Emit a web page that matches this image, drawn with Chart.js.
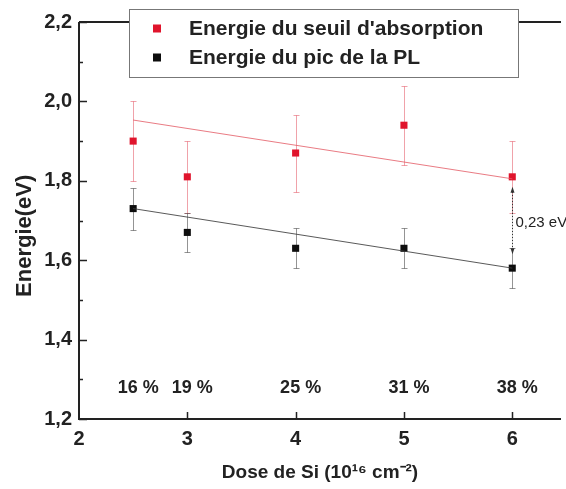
<!DOCTYPE html>
<html><head><meta charset="utf-8">
<script src="https://cdn.jsdelivr.net/npm/chart.js@4"></script>
<style>html,body{margin:0;padding:0;background:#fff;overflow:hidden}#wrap{width:566px;height:489px}</style>
</head><body><div id="wrap"><canvas id="c" width="566" height="489"></canvas></div>
<script>
const doses = [2.5, 3, 4, 5, 6];
const seuil = [1.90, 1.81, 1.87, 1.94, 1.81];
const seuilErr = [0.10, 0.09, 0.097, 0.10, 0.09];
const pic = [1.73, 1.67, 1.63, 1.63, 1.58];
const picErr = [0.053, 0.05, 0.05, 0.05, 0.05];
const fitX = [2.5, 6];
const seuilFit = [1.953, 1.805];
const picFit = [1.73, 1.58];
const percents = ['16 %', '19 %', '25 %', '31 %', '38 %'];
const legendLabels = ["Energie du seuil d'absorption", 'Energie du pic de la PL'];
const gapLabel = '0,23 eV';
const gapRange = [1.78, 1.62];

const RED = '#e0142c', BLACK = '#0d0d0d';
const FONT = '"Liberation Sans", Arial, sans-serif';
const pts = (xs, ys) => xs.map((x, i) => ({x, y: ys[i]}));

const decor = {
  id: 'decor',
  beforeDatasetsDraw(chart) {
    const {ctx, scales: {x, y}} = chart;
    ctx.save();
    const bars = (vals, errs, col) => {
      ctx.strokeStyle = col; ctx.lineWidth = 1;
      vals.forEach((v, i) => {
        const px = Math.round(x.getPixelForValue(doses[i])) + 0.5;
        const t = Math.round(y.getPixelForValue(v + errs[i])) + 0.5, b = Math.round(y.getPixelForValue(v - errs[i])) + 0.5;
        ctx.beginPath();
        ctx.moveTo(px, t); ctx.lineTo(px, b);
        ctx.moveTo(px - 3, t); ctx.lineTo(px + 3, t);
        ctx.moveTo(px - 3, b); ctx.lineTo(px + 3, b);
        ctx.stroke();
      });
    };
    bars(seuil, seuilErr, 'rgba(225,70,85,0.5)');
    bars(pic, picErr, 'rgba(60,60,60,0.55)');
    // gap arrow
    const ax = Math.round(x.getPixelForValue(6)) + 0.5;
    const y1 = y.getPixelForValue(gapRange[0]), y2 = y.getPixelForValue(gapRange[1]);
    ctx.strokeStyle = '#333'; ctx.setLineDash([1.5, 1.5]);
    ctx.beginPath(); ctx.moveTo(ax, y1); ctx.lineTo(ax, y2); ctx.stroke();
    ctx.setLineDash([]);
    ctx.fillStyle = '#333';
    ctx.beginPath(); ctx.moveTo(ax, y1 - 2); ctx.lineTo(ax - 2, y1 + 4); ctx.lineTo(ax + 2, y1 + 4); ctx.fill();
    ctx.beginPath(); ctx.moveTo(ax, y2 + 2); ctx.lineTo(ax - 2, y2 - 4); ctx.lineTo(ax + 2, y2 - 4); ctx.fill();
    ctx.font = '15px ' + FONT; ctx.fillStyle = '#222'; ctx.textBaseline = 'middle'; ctx.textAlign = 'left';
    ctx.fillText(gapLabel, ax + 3, y.getPixelForValue((gapRange[0] + gapRange[1]) / 2) + 2);
    ctx.restore();
  },
  afterDraw(chart) {
    const {ctx, chartArea: a, scales: {x, y}} = chart;
    ctx.save();
    // axes
    ctx.strokeStyle = '#222'; ctx.lineWidth = 2;
    ctx.beginPath();
    ctx.moveTo(a.left, a.top); ctx.lineTo(a.right, a.top);
    ctx.moveTo(a.left, a.top); ctx.lineTo(a.left, a.bottom); ctx.lineTo(a.right, a.bottom);
    ctx.stroke();
    ctx.lineWidth = 1.5;
    ctx.beginPath();
    for (let k = 12; k <= 22; k++) {
      const py = Math.round(y.getPixelForValue(k / 10)) + 0.5;
      const major = k % 2 === 0;
      ctx.moveTo(a.left, py); ctx.lineTo(a.left + (major ? 8 : 4), py);
    }
    for (let v = 3; v <= 6; v += 1) {
      const px = Math.round(x.getPixelForValue(v)) + 0.5;
      ctx.moveTo(px, a.bottom); ctx.lineTo(px, a.bottom - 7);
    }
    ctx.stroke();
    // percent labels
    ctx.font = 'bold 18px ' + FONT; ctx.fillStyle = '#222'; ctx.textAlign = 'center'; ctx.textBaseline = 'middle';
    percents.forEach((p, i) => ctx.fillText(p, x.getPixelForValue(doses[i]) + 5, y.getPixelForValue(1.277)));
    // legend
    const lx = 129, ly = 9, lw = 389, lh = 68;
    ctx.fillStyle = '#fff'; ctx.fillRect(lx, ly, lw, lh);
    ctx.strokeStyle = '#777'; ctx.lineWidth = 1; ctx.strokeRect(lx + 0.5, ly + 0.5, lw, lh);
    const cols = [RED, BLACK];
    legendLabels.forEach((t, i) => {
      const cy = 28.5 + i * 29;
      ctx.fillStyle = cols[i]; ctx.fillRect(153, cy - 4, 8, 8);
      ctx.fillStyle = '#222'; ctx.font = 'bold 21px ' + FONT; ctx.textAlign = 'left'; ctx.textBaseline = 'middle';
      ctx.fillText(t, 189, cy + 1);
    });
    ctx.restore();
  }
};

new Chart(document.getElementById('c'), {
  data: {
    datasets: [
      {type: 'line', label: 'fit seuil', data: pts(fitX, seuilFit), borderColor: 'rgba(228,90,100,0.8)', borderWidth: 1, pointRadius: 0, fill: false},
      {type: 'line', label: 'fit pic', data: pts(fitX, picFit), borderColor: 'rgba(60,60,60,0.85)', borderWidth: 1, pointRadius: 0, fill: false},
      {type: 'scatter', label: legendLabels[0], data: pts(doses, seuil), pointStyle: 'rect', pointRadius: 5, backgroundColor: RED, borderColor: RED, borderWidth: 0},
      {type: 'scatter', label: legendLabels[1], data: pts(doses, pic), pointStyle: 'rect', pointRadius: 5, backgroundColor: BLACK, borderColor: BLACK, borderWidth: 0}
    ]
  },
  options: {
    responsive: false, animation: false, maintainAspectRatio: false,
    layout: {padding: {top: 22, right: 0, left: 0, bottom: 0}},
    plugins: {legend: {display: false}, tooltip: {enabled: false}},
    scales: {
      x: {
        type: 'linear', min: 2, max: 6.45,
        afterFit: s => { s.height = 70; s.paddingLeft = 0; s.paddingRight = 0; },
        grid: {display: false, drawTicks: false}, border: {display: false},
        ticks: {stepSize: 1, includeBounds: false, autoSkip: false, padding: 8, color: '#222', font: {family: FONT, size: 20, weight: 'bold'},
          callback: v => Number.isInteger(v) ? String(v) : ''},
        title: {display: true, text: 'Dose de Si (10¹⁶ cm⁻²)', color: '#222', font: {family: FONT, size: 19, weight: 'bold'}, padding: {top: 4, bottom: 5}}
      },
      y: {
        type: 'linear', min: 1.2, max: 2.2,
        afterFit: s => { s.width = 79; s.paddingTop = 0; s.paddingBottom = 0; },
        grid: {display: false, drawTicks: false}, border: {display: false},
        ticks: {stepSize: 0.2, padding: 7, color: '#222', font: {family: FONT, size: 20, weight: 'bold'},
          callback: v => v.toFixed(1).replace('.', ',')},
        title: {display: true, text: 'Energie(eV)     ', color: '#222', font: {family: FONT, size: 22, weight: 'bold'}, padding: {top: 12, bottom: 0}}
      }
    }
  },
  plugins: [decor]
});
</script></body></html>
